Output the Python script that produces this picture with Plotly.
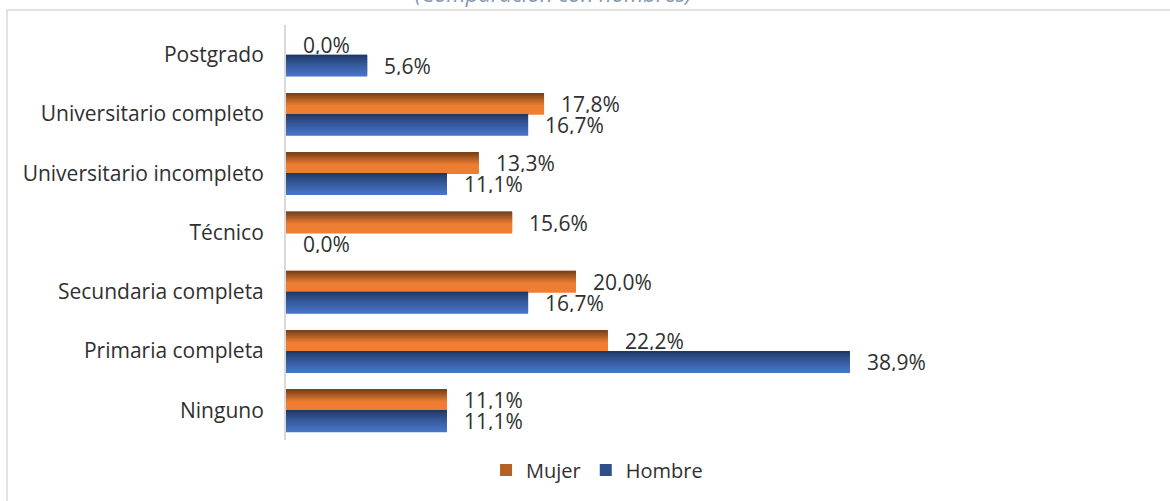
import plotly.graph_objects as go

# datos (de arriba hacia abajo como en el gráfico)
niveles = [
    "Postgrado",
    "Universitario completo",
    "Universitario incompleto",
    "Técnico",
    "Secundaria completa",
    "Primaria completa",
    "Ninguno",
]
mujer = [0.0, 17.8, 13.3, 15.6, 20.0, 22.2, 11.1]
hombre = [5.6, 16.7, 11.1, 0.0, 16.7, 38.9, 11.1]

titulo = "(Comparación con hombres)"


def mezcla(c1, c2, t):
    a = [int(c1[i:i + 2], 16) for i in (1, 3, 5)]
    b = [int(c2[i:i + 2], 16) for i in (1, 3, 5)]
    return "#" + "".join(f"{round(x + (y - x) * t):02x}" for x, y in zip(a, b))


# degradado tipo Excel: oscuro arriba, claro abajo
N = 14
grad_mujer = [mezcla("#7a4218", "#ee7e32", min(1, (i / (N - 1)) / 0.6)) for i in range(N)]
grad_hombre = [mezcla("#1f3864", "#4673c6", (i / (N - 1)) ** 0.8) for i in range(N)]

W = 0.354  # alto de cada barra en unidades de categoría
fig = go.Figure()


def add_series(nombre, valores, colores, arriba):
    n = len(colores)
    h = W / n
    base = 0.0 if arriba else -W
    fig.add_trace(go.Bar(
        y=niveles, x=valores, orientation="h", name=nombre,
        offset=base, width=W, marker=dict(color=colores[-1], line=dict(width=0)),
        showlegend=False, hoverinfo="skip",
    ))
    for i, c in enumerate(colores):
        top = base + W - i * h
        ancho = h if i == 0 else h * 1.6
        fig.add_trace(go.Bar(
            y=niveles, x=valores, orientation="h", name=nombre,
            offset=top - ancho, width=ancho,
            marker=dict(color=c, line=dict(width=0)),
            showlegend=(i == n // 3), legendgroup=nombre, hoverinfo="skip",
        ))
    for niv, v in zip(niveles, valores):
        fig.add_annotation(
            x=v, y=niv, text=f"{v:.1f}".replace(".", ",") + "%",
            showarrow=False, xanchor="left", yanchor="middle",
            xshift=16, yshift=(10.5 if arriba else -10.5),
            height=19, borderpad=0,
            font=dict(size=21, color="#303030"),
        )


add_series("Mujer", mujer, grad_mujer, True)
add_series("Hombre", hombre, grad_hombre, False)

fig.add_annotation(
    text=f"<i>{titulo}</i>", xref="paper", yref="paper", x=0.309, y=1.036,
    xanchor="center", yanchor="bottom", showarrow=False,
    font=dict(size=22, color="#8497b0", family="Open Sans"),
)
# marco del gráfico
fig.add_shape(
    type="rect", xref="paper", yref="paper",
    x0=-0.3229, x1=1.2, y0=-0.3, y1=1.0361,
    line=dict(color="#d9d9d9", width=1.5), layer="below",
)

fig.update_layout(
    width=1170, height=501,
    margin=dict(l=286, r=20, t=25, b=61),
    barmode="overlay",
    plot_bgcolor="white", paper_bgcolor="white",
    font=dict(family="Open Sans", size=21, color="#303030"),
    legend=dict(
        orientation="h", x=0.36, y=-0.072, xanchor="center", yanchor="middle",
        font=dict(size=20, color="#303030"), itemwidth=30, traceorder="normal",
    ),
    xaxis=dict(range=[0, 59.6], visible=False),
    yaxis=dict(
        categoryorder="array", categoryarray=niveles[::-1], range=[-0.5, 6.5],
        showline=True, linecolor="#d9d9d9", linewidth=2,
        ticks="", showgrid=False, ticklabelstandoff=16,
        tickfont=dict(size=21, color="#303030"),
    ),
)

fig.write_html(
    "out.html",
    config={"displayModeBar": False},
    post_script="document.body.style.margin='0';",
)
